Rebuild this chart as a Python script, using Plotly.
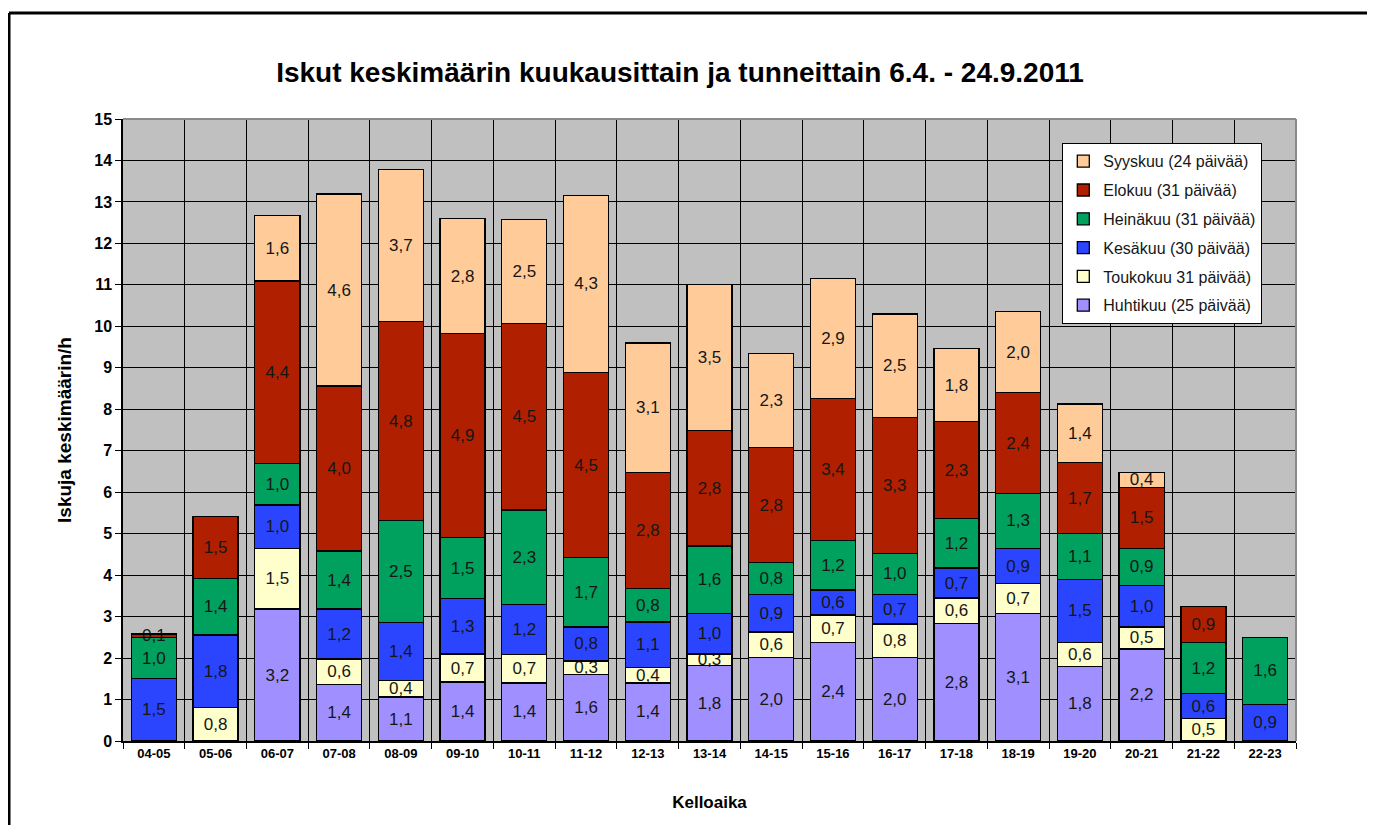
import plotly.graph_objects as go

categories = ["04-05", "05-06", "06-07", "07-08", "08-09", "09-10", "10-11", "11-12",
              "12-13", "13-14", "14-15", "15-16", "16-17", "17-18", "18-19", "19-20",
              "20-21", "21-22", "22-23"]

huhtikuu = [0, 0, 3.18, 1.37, 1.06, 1.42, 1.4, 1.6, 1.4, 1.82, 2.02, 2.38, 2.02, 2.83, 3.07, 1.8, 2.22, 0, 0]
toukokuu = [0, 0.8, 1.47, 0.61, 0.4, 0.68, 0.68, 0.33, 0.37, 0.28, 0.61, 0.66, 0.8, 0.62, 0.72, 0.58, 0.53, 0.54, 0]
kesakuu = [1.5, 1.76, 1.04, 1.2, 1.4, 1.33, 1.22, 0.82, 1.1, 0.97, 0.9, 0.6, 0.72, 0.72, 0.86, 1.52, 1.0, 0.6, 0.88]
heinakuu = [1.0, 1.36, 1.01, 1.4, 2.45, 1.47, 2.27, 1.67, 0.81, 1.63, 0.77, 1.19, 0.99, 1.2, 1.32, 1.1, 0.9, 1.23, 1.62]
elokuu = [0.08, 1.5, 4.39, 3.98, 4.8, 4.92, 4.5, 4.47, 2.79, 2.78, 2.78, 3.43, 3.27, 2.33, 2.43, 1.72, 1.47, 0.87, 0]
syyskuu = [0, 0, 1.59, 4.63, 3.67, 2.78, 2.5, 4.27, 3.13, 3.53, 2.27, 2.9, 2.5, 1.76, 1.96, 1.41, 0.36, 0, 0]

series = [
    ("Huhtikuu (25 päivää)", huhtikuu, "#9F8FFF"),
    ("Toukokuu 31 päivää)", toukokuu, "#FFFFCC"),
    ("Kesäkuu (30 päivää)", kesakuu, "#2B45FF"),
    ("Heinäkuu (31 päivää)", heinakuu, "#00A05E"),
    ("Elokuu (31 päivää)", elokuu, "#B02000"),
    ("Syyskuu (24 päivää)", syyskuu, "#FFCC99"),
]

W, H = 1359, 817
L, T = 115, 111
PR, PB = 1288, 733          # plot right / bottom in figure px
PW, PH = PR - L, PB - T

fig = go.Figure()
for i, (name, vals, color) in enumerate(series):
    labels = [("%.1f" % v).replace(".", ",") if v > 0 else "" for v in vals]
    fig.add_trace(go.Bar(
        x=categories, y=vals, name=name, legendgroup=name, legendrank=len(series) - i,
        marker=dict(color=color, line=dict(color="black", width=1.3)),
        text=labels, textposition="inside", insidetextanchor="middle",
        textangle=0, constraintext="none",
        textfont=dict(family="Arial", size=17, color="#161616"),
        hoverinfo="skip",
    ))

fig.update_layout(
    barmode="stack",
    bargap=0.27,
    width=W, height=H,
    margin=dict(l=L, r=W - PR, t=T, b=H - PB),
    paper_bgcolor="white",
    plot_bgcolor="#C0C0C0",
    uniformtext=dict(minsize=17, mode="show"),
    font=dict(family="Arial", color="black"),
    title=dict(text="<b>Iskut keskimäärin kuukausittain ja tunneittain 6.4. - 24.9.2011</b>",
               x=(672 - L) / PW, xanchor="center", xref="paper",
               y=1 - 64 / H, yanchor="middle", yref="container",
               font=dict(family="Arial", size=28, color="black")),
    legend=dict(
        x=(1054 - L) / PW, y=1 - (135 - T) / PH, xref="paper", yref="paper",
        xanchor="left", yanchor="top",
        traceorder="grouped", bgcolor="white", bordercolor="black", borderwidth=1.3,
        font=dict(family="Arial", size=16, color="#161616"),
        itemwidth=30, tracegroupgap=5,
    ),
    showlegend=True,
)

fig.update_xaxes(
    type="category", tickson="boundaries", showgrid=True, gridcolor="black", gridwidth=1.3,
    ticks="outside", ticklen=6, tickcolor="black",
    tickfont=dict(family="Arial", size=13, color="black", weight="bold"),
    showline=True, linecolor="black", linewidth=1.5,
    title=dict(text="<b>Kelloaika</b>", font=dict(family="Arial", size=17, color="black"), standoff=36),
)
fig.update_yaxes(
    range=[0, 15], dtick=1, showgrid=True, gridcolor="black", gridwidth=1.3,
    ticks="outside", ticklen=6, tickcolor="black",
    tickfont=dict(family="Arial", size=16, color="black", weight="bold"),
    showline=True, linecolor="black", linewidth=1.5, zeroline=False,
    title=dict(text="<b>Iskuja keskimäärin/h</b>", font=dict(family="Arial", size=19, color="black"), standoff=18),
)

# plot area top/right gray border
fig.add_shape(type="line", xref="paper", yref="paper", x0=0, x1=1, y0=1, y1=1,
              line=dict(color="#8a8a8a", width=2))
fig.add_shape(type="line", xref="paper", yref="paper", x0=1, x1=1, y0=0, y1=1,
              line=dict(color="#8a8a8a", width=2))
# outer frame: top and left edges only (the rest lies outside the page)
fx0 = (1 - L) / PW
fy1 = 1 + (T - 5) / PH
fig.add_shape(type="line", xref="paper", yref="paper",
              x0=fx0, x1=(W + 40 - L) / PW, y0=fy1, y1=fy1,
              line=dict(color="black", width=3), layer="below")
fig.add_shape(type="line", xref="paper", yref="paper",
              x0=fx0, x1=fx0, y0=-(H + 40 - PB) / PH, y1=fy1,
              line=dict(color="black", width=3), layer="below")

fig.write_html("out.html")
